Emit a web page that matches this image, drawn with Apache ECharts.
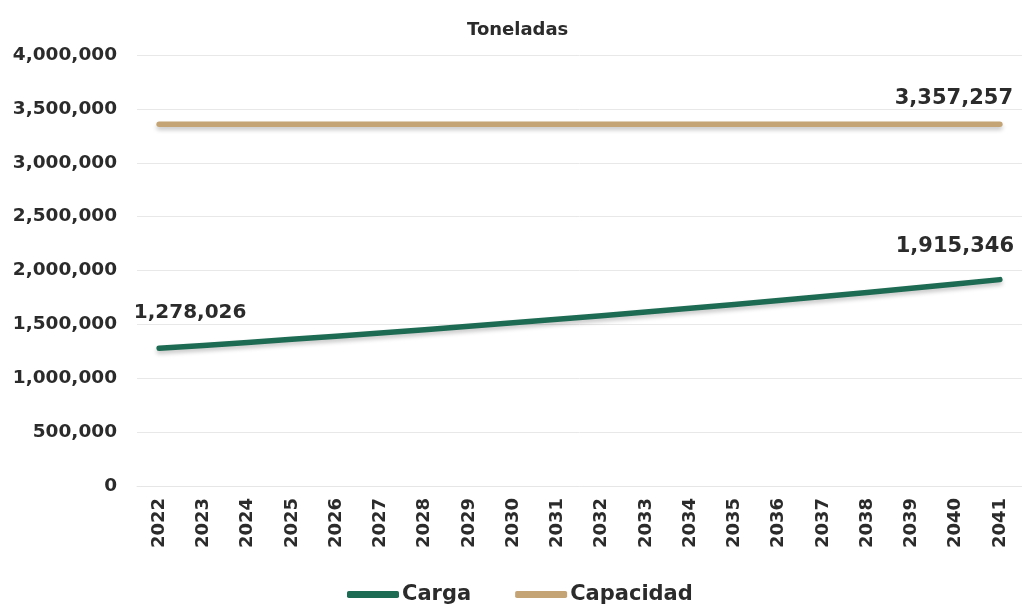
<!DOCTYPE html>
<html>
<head>
<meta charset="utf-8">
<script src="https://cdn.jsdelivr.net/npm/echarts@6/dist/echarts.min.js"></script>
<style>
html,body{margin:0;padding:0;background:#fff;}
#chart{width:1022px;height:607px;}
</style>
</head>
<body>
<div id="chart"></div>
<script>
const years = ['2022','2023','2024','2025','2026','2027','2028','2029','2030','2031','2032','2033','2034','2035','2036','2037','2038','2039','2040','2041'];
const carga = [1278026,1305000,1332800,1361200,1390400,1420300,1450900,1482200,1514200,1547000,1580500,1614700,1649700,1685300,1721700,1758800,1796700,1835200,1874500,1915346];
const capacidad = [3357257,3357257,3357257,3357257,3357257,3357257,3357257,3357257,3357257,3357257,3357257,3357257,3357257,3357257,3357257,3357257,3357257,3357257,3357257,3357257];
const yTicks = {min:0, max:4000000, interval:500000};

const FONT = 'DejaVu Sans';
const TXT = '#2b2b2b';
const fmt = v => v.toLocaleString('en-US');

const chart = echarts.init(document.getElementById('chart'));

function endLabels(arr, opts){
  return arr.map((v,i)=> opts[i] ? {value:v, label:Object.assign({show:true, formatter:p=>fmt(p.value)}, opts[i])} : v);
}

const lineCommon = {
  type:'line', showSymbol:true, symbol:'circle', symbolSize:0.1,
  label:{show:false, fontFamily:FONT, fontSize:21, fontWeight:'bold', color:TXT},
  emphasis:{disabled:true}
};

chart.setOption({
  animation:false,
  title:{
    text:'Toneladas', left:462, top:16,
    textStyle:{fontFamily:FONT, fontSize:18, fontWeight:'bold', color:TXT}
  },
  legend:{
    top:579, left:342,
    data:['Carga','Capacidad'],
    icon:'roundRect', itemWidth:52, itemHeight:7, itemGap:44,
    textStyle:{fontFamily:FONT, fontSize:21, fontWeight:'bold', color:TXT, padding:[0,0,0,-2]}
  },
  grid:{left:137, right:0, top:55, bottom:121, containLabel:false},
  xAxis:{
    type:'category', data:years, boundaryGap:true,
    axisLine:{show:true, lineStyle:{color:'#e6e6e6', width:1}},
    axisTick:{show:false},
    axisLabel:{rotate:90, margin:12, fontFamily:FONT, fontSize:18, fontWeight:'bold', color:TXT, interval:0}
  },
  yAxis:{
    type:'value', min:yTicks.min, max:yTicks.max, interval:yTicks.interval,
    axisLine:{show:false}, axisTick:{show:false},
    splitLine:{lineStyle:{color:'#e8e8e8', width:1}},
    axisLabel:{margin:20, fontFamily:FONT, fontSize:18.5, fontWeight:'bold', color:TXT, formatter:v=>fmt(v)}
  },
  series:[
    Object.assign({}, lineCommon, {
      name:'Carga',
      data:endLabels(carga,{
        0:{position:'top', offset:[31,-20], fontSize:20},
        [carga.length-1]:{position:'top', offset:[-45,-18]}
      }),
      itemStyle:{color:'#1e6b53'},
      lineStyle:{color:'#1e6b53', width:5.5, cap:'round', join:'round', shadowColor:'rgba(0,0,0,0.22)', shadowBlur:4, shadowOffsetY:3}
    }),
    Object.assign({}, lineCommon, {
      name:'Capacidad',
      data:endLabels(capacidad,{
        [capacidad.length-1]:{position:'top', offset:[-46,-10]}
      }),
      itemStyle:{color:'#c4a474'},
      lineStyle:{color:'#c4a474', width:5.5, cap:'round', join:'round', shadowColor:'rgba(0,0,0,0.22)', shadowBlur:4, shadowOffsetY:3}
    })
  ]
});
</script>
</body>
</html>
